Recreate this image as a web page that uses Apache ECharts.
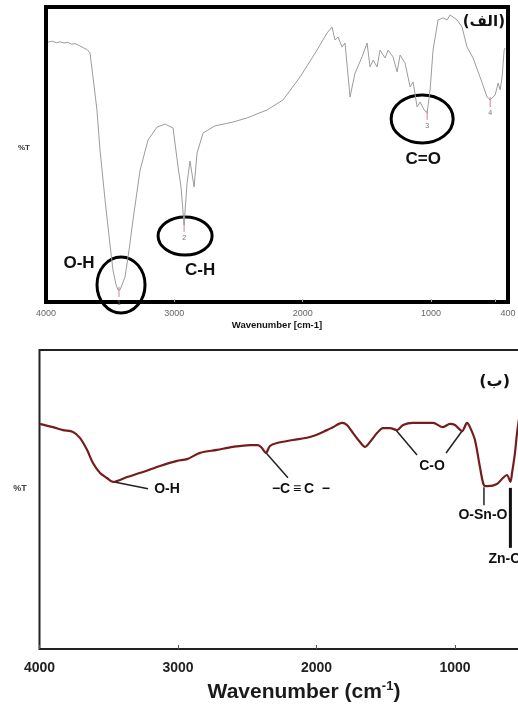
<!DOCTYPE html>
<html>
<head>
<meta charset="utf-8">
<script src="https://cdn.jsdelivr.net/npm/echarts@6/dist/echarts.min.js"></script>
<style>
  html, body { margin: 0; padding: 0; background: #fff; }
  #chart { width: 518px; height: 706px; }
</style>
</head>
<body>
<div id="chart"></div>
<script>
// Panel (الف): FT-IR spectrum of the extract (wavenumber, %T)
const topWn = [3984, 3950, 3920, 3891, 3860, 3830, 3800, 3774, 3740, 3710, 3680, 3657, 3634, 3603, 3579, 3540, 3501, 3478, 3454, 3439, 3423, 3408, 3384, 3353, 3322, 3267, 3205, 3135, 3072, 3010, 2971, 2948, 2924, 2901, 2878, 2846, 2823, 2776, 2683, 2543, 2433, 2278, 2153, 2020, 1888, 1810, 1771, 1748, 1724, 1693, 1670, 1631, 1592, 1537, 1498, 1475, 1451, 1420, 1397, 1358, 1334, 1296, 1264, 1241, 1202, 1163, 1140, 1108, 1085, 1054, 1030, 1007, 984, 945, 906, 875, 851, 828, 797, 758, 719, 672, 618, 563, 539, 516, 500, 477, 461, 446, 430, 422];
const topT = [88.1, 88.4, 87.9, 88.2, 87.8, 88.0, 87.4, 87.6, 86.9, 86.2, 85.6, 84.4, 76.3, 65.1, 51.5, 34.6, 19.3, 10.8, 5.8, 4.1, 4.1, 5.8, 8.5, 17.6, 27.8, 44.7, 54.9, 59.3, 60.3, 59.0, 45.8, 39.0, 26.1, 40.3, 47.8, 39.0, 50.5, 57.3, 59.7, 61.0, 62.4, 65.1, 68.5, 76.3, 85.4, 91.2, 93.2, 88.8, 89.8, 86.4, 87.8, 69.5, 77.6, 83.1, 87.8, 79.7, 82.0, 79.7, 85.4, 82.7, 85.4, 83.1, 78.0, 83.7, 81.0, 72.9, 74.6, 66.1, 67.8, 65.1, 64.1, 71.9, 85.4, 95.6, 96.3, 95.6, 97.3, 96.6, 95.6, 93.2, 86.4, 82.7, 76.3, 69.5, 68.5, 69.5, 70.2, 74.2, 71.9, 76.3, 85.4, 86.1];

// Picked peaks and band assignments, panel (الف)
const topPeakWn = [3431, 2924, 1030, 539];
const topPeakT = [4.1, 26.1, 64.1, 68.5];
const topPeakNo = ['1', '2', '3', '4'];
const topBands = ['O-H', 'C-H', 'C=O'];

// Panel (ب): FT-IR spectrum of the nanocomposite
const botWn = [4000, 3903, 3830, 3758, 3708, 3657, 3614, 3563, 3513, 3469, 3368, 3253, 3130, 3007, 2935, 2841, 2718, 2603, 2480, 2422, 2394, 2365, 2336, 2285, 2170, 2047, 1924, 1881, 1816, 1780, 1736, 1686, 1650, 1614, 1563, 1520, 1469, 1419, 1375, 1303, 1159, 1087, 1036, 1000, 949, 913, 892, 856, 820, 791, 762, 697, 654, 625, 600, 588, 567, 552, 531, 495];
const botT = [75.3, 74.2, 73.2, 72.6, 70.6, 66.6, 62.2, 58.9, 57.2, 55.9, 57.5, 59.2, 61.2, 62.9, 63.5, 65.6, 66.6, 67.6, 68.2, 68.2, 67.2, 65.6, 67.9, 68.9, 69.9, 70.9, 73.2, 74.2, 75.6, 74.9, 72.2, 69.2, 67.6, 69.2, 72.2, 73.9, 73.9, 73.2, 74.9, 75.6, 75.6, 74.2, 75.3, 74.9, 72.9, 75.6, 74.2, 69.9, 60.9, 54.8, 54.5, 55.2, 57.2, 58.2, 55.9, 58.9, 65.6, 72.2, 78.3, 81.6];

// Band assignments, panel (ب)
const botBandWn = [3469, 2365, 1433, 949, 791, 600];
const botBandT = [55.9, 65.6, 73.6, 72.9, 54.8, 55.9];
const botBands = ['O-H', '−C\u2009≡\u2009C  −', 'C-O', 'O-Sn-O', 'Zn-O'];

const topTicks = [4000, 3000, 2000, 1000, 400];
const botTicks = [4000, 3000, 2000, 1000];

const SANS = '"Liberation Sans", Arial, "DejaVu Sans", sans-serif';

const pairs = (xs, ys) => xs.map((x, i) => [x, ys[i]]);
const plain = (v) => String(v);

const chart = echarts.init(document.getElementById('chart'), null, { renderer: 'canvas' });

const hiddenY = (gi) => ({
  gridIndex: gi, type: 'value', min: 0, max: 100,
  axisLine: { show: false }, axisTick: { show: false },
  axisLabel: { show: false }, splitLine: { show: false }
});

chart.setOption({
  animation: false,
  backgroundColor: '#ffffff',
  grid: [
    { left: 46, top: 7, width: 462, height: 295, outerBoundsMode: 'none', containLabel: false, show: true, borderColor: '#000', borderWidth: 4, backgroundColor: 'transparent' },
    { left: 39.5, top: 350, width: 498.6, height: 299, outerBoundsMode: 'none', containLabel: false, show: true, borderColor: '#222', borderWidth: 2, backgroundColor: 'transparent' }
  ],
  xAxis: [
    {
      gridIndex: 0, type: 'value', inverse: true, min: 400, max: 4000,
      axisLine: { show: false }, splitLine: { show: false },
      axisTick: { show: true, inside: true, length: 3, customValues: [3000, 2000, 1000, 500], lineStyle: { color: '#aaa' } },
      axisLabel: { customValues: topTicks, formatter: plain, color: '#666', fontSize: 9, fontFamily: SANS, margin: 7 }
    },
    {
      gridIndex: 1, type: 'value', inverse: true, min: 400, max: 4000,
      axisLine: { show: false }, splitLine: { show: false },
      axisTick: { show: true, inside: true, length: 4, customValues: botTicks, lineStyle: { color: '#555' } },
      axisLabel: { customValues: botTicks, formatter: plain, color: '#222', fontSize: 14, fontWeight: 'bold', fontFamily: SANS, margin: 12 }
    }
  ],
  yAxis: [hiddenY(0), hiddenY(1)],
  series: [
    {
      type: 'line', xAxisIndex: 0, yAxisIndex: 0, data: pairs(topWn, topT),
      showSymbol: false, silent: true,
      lineStyle: { color: '#9c9c9c', width: 1 }
    },
    {
      type: 'line', xAxisIndex: 1, yAxisIndex: 1, data: pairs(botWn, botT),
      showSymbol: false, silent: true, smooth: 0.3, clip: false,
      lineStyle: { color: '#751c1c', width: 2.2 }
    }
  ]
});

// Annotation overlay anchored on the spectra's own coordinates
const toPx = (gi, w, t) => chart.convertToPixel({ xAxisIndex: gi, yAxisIndex: gi }, [w, t]);
const g = [];
const txt = (x, y, text, size, opts) => g.push(Object.assign({
  type: 'text', x, y, silent: true,
  style: Object.assign({ text, fontSize: size, fontWeight: 'bold', fontFamily: SANS, fill: '#111', align: 'center', verticalAlign: 'middle' }, opts || {})
}));
const seg = (x1, y1, x2, y2, color, width) => g.push({
  type: 'line', silent: true, shape: { x1, y1, x2, y2 }, style: { stroke: color, lineWidth: width }
});
const ring = (cx, cy, rx, ry) => g.push({
  type: 'ellipse', silent: true, shape: { cx, cy, rx, ry }, style: { fill: 'none', stroke: '#000', lineWidth: 3 }
});

// panel (الف): peak markers, circles, band labels
const tp = topPeakWn.map((w, i) => toPx(0, w, topPeakT[i]));
tp.forEach((p, i) => {
  seg(p[0], p[1] - 3, p[0], p[1] + 7, '#e07a8c', 1);
  txt(p[0], p[1] + 13, topPeakNo[i], 7, { fontWeight: 'normal', fill: '#777' });
});
const ringGeo = [[2, -5, 24, 28], [1, 11, 27, 19], [-5, 6, 31, 24]];
const bandOff = [[-40, -27], [16, 45], [-4, 46]];
topBands.forEach((b, i) => {
  const p = tp[i];
  ring(p[0] + ringGeo[i][0], p[1] + ringGeo[i][1], ringGeo[i][2], ringGeo[i][3]);
  txt(p[0] + bandOff[i][0], p[1] + bandOff[i][1], b, 17);
});
txt(24, 148, '%T', 8, { fill: '#333' });
txt(277, 325, 'Wavenumber [cm-1]', 9.5, { fill: '#111' });
txt(505, 22, '(الف)', 15, { align: 'right', fill: '#111', fontFamily: '"DejaVu Sans", ' + SANS });

// panel (ب): leader lines and band labels
const bp = botBandWn.map((w, i) => toPx(1, w, botBandT[i]));
// O-H
seg(bp[0][0], bp[0][1], bp[0][0] + 35, bp[0][1] + 7, '#222', 1.5);
txt(bp[0][0] + 54, bp[0][1] + 7, botBands[0], 14);
// C≡C
seg(bp[1][0], bp[1][1], bp[1][0] + 22, bp[1][1] + 25, '#222', 1.5);
txt(bp[1][0] + 35, bp[1][1] + 36, botBands[1], 14);
// C-O (two bands share one label)
seg(bp[2][0], bp[2][1], bp[2][0] + 22, bp[2][1] + 26, '#222', 1.5);
seg(bp[3][0], bp[3][1], bp[3][0] - 16, bp[3][1] + 22, '#222', 1.5);
txt(bp[2][0] + 37, bp[2][1] + 37, botBands[2], 14);
// O-Sn-O
seg(bp[4][0], bp[4][1] + 2, bp[4][0], bp[4][1] + 20, '#222', 1.5);
txt(bp[4][0] - 1, bp[4][1] + 30, botBands[3], 14);
// Zn-O
seg(bp[5][0], bp[5][1] + 6, bp[5][0], bp[5][1] + 66, '#111', 3);
txt(bp[5][0] - 22, bp[5][1] + 77, botBands[4], 14, { align: 'left' });

txt(20, 489, '%T', 9, { fill: '#444' });
txt(510, 382, '(ب)', 16, { align: 'right', fill: '#111', fontFamily: '"DejaVu Sans", ' + SANS });

g.push({
  type: 'text', x: 304, y: 692, silent: true,
  style: {
    text: '{a|Wavenumber (cm}{s|-1}{a|)}',
    align: 'center', verticalAlign: 'middle',
    rich: {
      a: { fontSize: 21, fontWeight: 'bold', fontFamily: SANS, fill: '#1a1a1a', lineHeight: 24 },
      s: { fontSize: 13, fontWeight: 'bold', fontFamily: SANS, fill: '#1a1a1a', verticalAlign: 'top', lineHeight: 14 }
    }
  }
});

chart.setOption({ graphic: g });
</script>
</body>
</html>
